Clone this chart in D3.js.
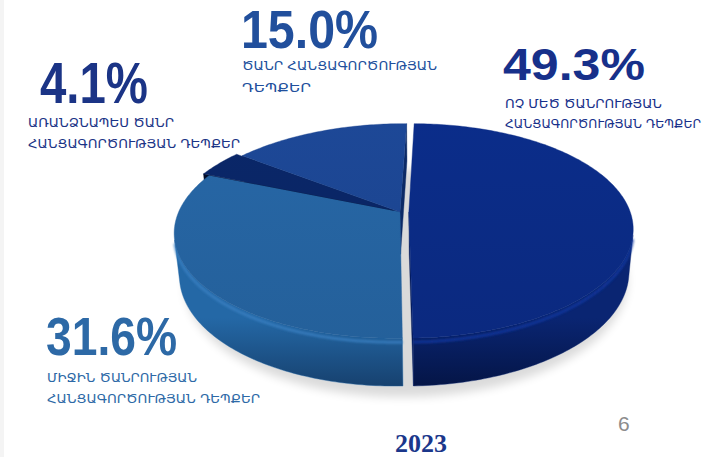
<!DOCTYPE html>
<html><head><meta charset="utf-8">
<script src="https://cdn.jsdelivr.net/npm/d3@7"></script>
<style>html,body{margin:0;padding:0;background:#fff;overflow:hidden}</style>
</head><body>
<svg id="chart" width="707" height="457"></svg>
<script>
// ---- data ----
const categories = [
  "ՈՉ ՄԵԾ ԾԱՆՐՈՒԹՅԱՆ ՀԱՆՑԱԳՈՐԾՈՒԹՅԱՆ ԴԵՊՔԵՐ",
  "ՄԻՋԻՆ ԾԱՆՐՈՒԹՅԱՆ ՀԱՆՑԱԳՈՐԾՈՒԹՅԱՆ ԴԵՊՔԵՐ",
  "ԱՌԱՆՁՆԱՊԵՍ ԾԱՆՐ ՀԱՆՑԱԳՈՐԾՈՒԹՅԱՆ ԴԵՊՔԵՐ",
  "ԾԱՆՐ ՀԱՆՑԱԳՈՐԾՈՒԹՅԱՆ ԴԵՊՔԵՐ"
];
const labelLines = [
  ["ՈՉ ՄԵԾ ԾԱՆՐՈՒԹՅԱՆ", "ՀԱՆՑԱԳՈՐԾՈՒԹՅԱՆ ԴԵՊՔԵՐ"],
  ["ՄԻՋԻՆ ԾԱՆՐՈՒԹՅԱՆ", "ՀԱՆՑԱԳՈՐԾՈՒԹՅԱՆ ԴԵՊՔԵՐ"],
  ["ԱՌԱՆՁՆԱՊԵՍ ԾԱՆՐ", "ՀԱՆՑԱԳՈՐԾՈՒԹՅԱՆ ԴԵՊՔԵՐ"],
  ["ԾԱՆՐ ՀԱՆՑԱԳՈՐԾՈՒԹՅԱՆ", "ԴԵՊՔԵՐ"]
];
const values = [49.3, 31.6, 4.1, 15.0];
const yearLabel = "2023";
const pageNumber = "6";

// ---- styles / layout ----
const topColors  = ["#0b2b84", "#2563a0", "#0a2565", "#1c4591"];
const sideTop    = ["#0a2572", "#2468a6", "#061a48", "#143a7c"];
const sideBot    = ["#041444", "#163f6c", "#020b24", "#0c2756"];
const rimColors  = ["#1238a0", "#3a80c2", "#0d2a70", "#2a55a4"];
const wallColors = ["#061c5c", "#1a4c80", "#020c28", "#0c2a66"];
const textColors = ["#17308a", "#2d69a6", "#1b3486", "#214f9c"];
const explode    = [0.040, 0.0, 0.035, 0.0];
const labelPos = [
  {nx:503, ny:80,  nw:142, fs:44, lx:505, ly:[108,128], lw:[157,196], lfs:[13,11.5]},
  {nx:46,  ny:355, nw:131, fs:53, lx:47,  ly:[382,403], lw:[150,213], lfs:[13,13]},
  {nx:40,  ny:103, nw:108, fs:57, lx:28,  ly:[127,148], lw:[146,212], lfs:[13,13]},
  {nx:241, ny:48,  nw:137, fs:53, lx:242, ly:[70,92],   lw:[195,69],  lfs:[13,13]}
];

const svg = d3.select("#chart");
const defs = svg.append("defs");
svg.append("rect").attr("width",707).attr("height",457).attr("fill","#fff");
svg.append("rect").attr("x",0).attr("y",0).attr("width",4).attr("height",457).attr("fill","#f4f4f4");

// perspective camera
const CAM = {e: 28*Math.PI/180, D: 5, F: 1107, camX: 0.12, h: 0.22};
const pieCx = 400, pieCy = 212;
const se = Math.sin(CAM.e), ce = Math.cos(CAM.e);
const cx0 = pieCx + CAM.F*CAM.camX/CAM.D;
function proj(X, Y, Z) {
  const yc = -Y*se + Z*ce;
  const zc = CAM.D - Y*ce - Z*se;
  return [cx0 + CAM.F*(X - CAM.camX)/zc, pieCy - CAM.F*yc/zc, zc];
}
const camPos = [CAM.camX, CAM.D*ce, CAM.D*se];

const rot = 0.8*Math.PI/180;
const pie = d3.pie().sort(null).value(d => d).startAngle(rot).endAngle(rot + 2*Math.PI);
const arcs = pie(values);

function pt(o, a, r, Z) { return [o[0] + r*Math.sin(a), o[1] - r*Math.cos(a), Z]; }
const line = d3.line();

const faces = [];
const tops = [];
const rims = [];
arcs.forEach((d, i) => {
  const m = (d.startAngle + d.endAngle)/2;
  const o = [explode[i]*Math.sin(m), -explode[i]*Math.cos(m)];
  const a0 = d.startAngle, a1 = d.endAngle;
  const n = Math.max(4, Math.ceil((a1 - a0)/(Math.PI/180)));
  const angs = d3.range(n + 1).map(k => a0 + (a1 - a0)*k/n);
  const h = CAM.h;
  const topPts = [proj(o[0], o[1], 0)].concat(angs.map(a => proj(...pt(o, a, 1, 0))));
  tops.push({i, pts: topPts});
  [[a0, a0 - Math.PI/2], [a1, a1 + Math.PI/2]].forEach(([a, b]) => {
    const nrm = [Math.sin(b), -Math.cos(b)];
    const p = pt(o, a, 0.5, -h/2);
    const dot = nrm[0]*(camPos[0]-p[0]) + nrm[1]*(camPos[1]-p[1]);
    if (dot > 0) {
      const q = [proj(o[0],o[1],0), proj(...pt(o,a,1,0)), proj(...pt(o,a,1,-h)), proj(o[0],o[1],-h)];
      faces.push({i, type:"wall", pts:q, z: d3.mean(q, v => v[2])});
    }
  });
  let run = [];
  const flush = () => {
    if (run.length > 1) {
      const upper = run.map(a => proj(...pt(o, a, 1, 0)));
      const lower = run.map(a => proj(...pt(o, a, 1, -h))).reverse();
      const q = upper.concat(lower);
      faces.push({i, type:"side", pts:q, z: d3.mean(q, v => v[2])});
      rims.push({i, pts: run.map(a => proj(...pt(o, a, 1, -0.018)))});
    }
    run = [];
  };
  angs.forEach(a => {
    const p = pt(o, a, 1, -h/2);
    const dot = Math.sin(a)*(camPos[0]-p[0]) + (-Math.cos(a))*(camPos[1]-p[1]);
    if (dot > 0) run.push(a); else flush();
  });
  flush();
});

// shadow
const blur = defs.append("filter").attr("id","blur").attr("x","-20%").attr("y","-20%").attr("width","140%").attr("height","140%");
blur.append("feGaussianBlur").attr("stdDeviation", 5);
const rimBlur = defs.append("filter").attr("id","rimblur");
rimBlur.append("feGaussianBlur").attr("stdDeviation", 1.2);
const shadowPts = d3.range(0, 361, 3).map(k => proj(...pt([0.02, 0.03], k*Math.PI/180, 1.0, -CAM.h - 0.01)));
svg.append("path").attr("d", line(shadowPts.map(p => [p[0]+2, p[1]+4])) + "Z")
  .attr("fill","#000").attr("opacity",0.14).attr("filter","url(#blur)");

arcs.forEach((d, i) => {
  const g = defs.append("linearGradient").attr("id","side"+i)
    .attr("gradientUnits","userSpaceOnUse").attr("x1",0).attr("x2",0).attr("y1",230).attr("y2",390);
  g.append("stop").attr("offset","0").attr("stop-color", sideTop[i]);
  g.append("stop").attr("offset","0.55").attr("stop-color", sideTop[i]);
  g.append("stop").attr("offset","1").attr("stop-color", sideBot[i]);
  const t = defs.append("linearGradient").attr("id","top"+i)
    .attr("gradientUnits","userSpaceOnUse").attr("x1",0).attr("x2",0).attr("y1",120).attr("y2",345);
  t.append("stop").attr("offset","0").attr("stop-color", d3.color(topColors[i]).brighter(0.12));
  t.append("stop").attr("offset","1").attr("stop-color", d3.color(topColors[i]).darker(0.1));
});

const gPie = svg.append("g");
faces.sort((a, b) => b.z - a.z).forEach(f => {
  gPie.append("path").attr("d", line(f.pts.map(p => [p[0], p[1]])) + "Z")
    .attr("fill", f.type === "wall" ? wallColors[f.i] : `url(#side${f.i})`)
    .attr("stroke", f.type === "wall" ? wallColors[f.i] : sideTop[f.i]).attr("stroke-width", 0.4)
    .attr("stroke-linejoin","round");
});
rims.forEach(r => {
  gPie.append("path").attr("d", line(r.pts.map(p => [p[0], p[1]])))
    .attr("fill","none").attr("stroke", rimColors[r.i]).attr("stroke-width", 3)
    .attr("opacity", 0.8).attr("filter","url(#rimblur)");
});
tops.forEach(t => {
  gPie.append("path").attr("d", line(t.pts.map(p => [p[0], p[1]])) + "Z")
    .attr("fill", `url(#top${t.i})`).attr("stroke", topColors[t.i]).attr("stroke-width", 0.4)
    .attr("stroke-linejoin","round");
});

// labels
const fmt = d3.format(".1f");
const gLab = svg.append("g");
values.forEach((v, i) => {
  const L = labelPos[i];
  gLab.append("text").attr("x", L.nx).attr("y", L.ny)
    .attr("font-family", "'Liberation Sans', Arial, sans-serif").attr("font-weight", "bold")
    .attr("font-size", L.fs).attr("fill", textColors[i])
    .attr("textLength", L.nw).attr("lengthAdjust", "spacingAndGlyphs")
    .text(fmt(v) + "%");
  labelLines[i].forEach((s, k) => {
    gLab.append("text").attr("x", L.lx).attr("y", L.ly[k])
      .attr("font-family", "'DejaVu Sans', sans-serif").attr("font-size", L.lfs[k])
      .attr("fill", textColors[i])
      .attr("textLength", L.lw[k]).attr("lengthAdjust", "spacingAndGlyphs")
      .text(s);
  });
});

svg.append("text").attr("x", 395).attr("y", 452)
  .attr("font-family", "'Liberation Serif', 'Times New Roman', serif").attr("font-weight", "bold")
  .attr("font-size", 26).attr("fill", "#1b378b").text(yearLabel);
svg.append("text").attr("x", 618).attr("y", 431)
  .attr("font-family", "'Liberation Sans', Arial, sans-serif")
  .attr("font-size", 21).attr("fill", "#8c8c8c").text(pageNumber);
</script>
</body></html>
